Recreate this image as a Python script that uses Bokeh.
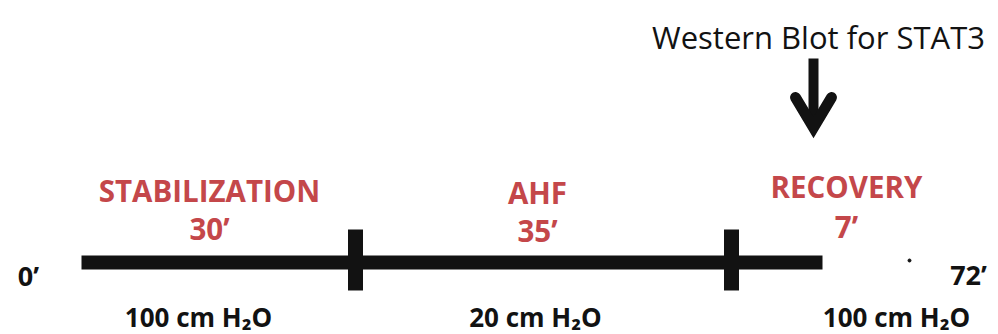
from bokeh.plotting import figure
from bokeh.models import Range1d, ColumnDataSource
from bokeh.core.properties import value
from bokeh.embed import file_html
from bokeh.resources import INLINE

# ---- data ----
phase_names = ["STABILIZATION", "AHF", "RECOVERY"]
phase_minutes = ["30\u2019", "35\u2019", "7\u2019"]
phase_pressures = ["100 cm H\u2082O", "20 cm H\u2082O", "100 cm H\u2082O"]
time_marks = ["0\u2019", "72\u2019"]
annotation = "Western Blot for STAT3"

# ---- schematic layout (diagram not drawn to scale; page-pixel units) ----
bar_x = [81, 822]
divider_x = [355, 731]
phase_label_x = [209, 537, 846]
phase_name_base = [190, 192, 186]
phase_min_base = [228, 230, 226]
pressure_x = [198, 535, 896]
pressure_base = [316, 316, 316]
mark_x = [28, 968]
mark_base = [275, 274]
arrow_x = 813

RED = "#c4474a"
INK = "#121212"
FONT = value("Open Sans")

p = figure(width=998, height=334, output_backend="svg", toolbar_location=None,
           x_range=Range1d(0, 998), y_range=Range1d(334, 0), min_border=0)
p.axis.visible = False
p.grid.visible = False
p.outline_line_color = None
p.background_fill_color = "white"
p.border_fill_color = "white"

# main timeline bar
p.quad(left=[bar_x[0]], right=[bar_x[1]], top=[255], bottom=[269],
       fill_color=INK, line_color=None)
# phase dividers
p.quad(left=[x - 7.5 for x in divider_x], right=[x + 7.5 for x in divider_x],
       top=[229] * 2, bottom=[290] * 2, fill_color=INK, line_color=None)
# small speck seen in the original
p.scatter(x=[909], y=[260], size=3, color=INK)

# arrow
p.quad(left=[arrow_x - 5], right=[arrow_x + 5], top=[58], bottom=[124],
       fill_color=INK, line_color=None)
p.line(x=[arrow_x - 18, arrow_x, arrow_x + 18], y=[97, 127, 97],
       line_width=11, line_color=INK, line_cap="round", line_join="miter")

# texts
p.text(x=[818], y=[36], text=[annotation], text_font=FONT, text_font_size="31px",
       text_align="center", text_baseline="alphabetic", text_color=INK)

src = ColumnDataSource(dict(x=phase_label_x, yn=phase_name_base, ym=phase_min_base,
                            name=phase_names, mins=phase_minutes))
p.text(x="x", y="yn", text="name", source=src, text_font=FONT, text_font_size="29.5px",
       text_font_style="bold", text_align="center", text_baseline="alphabetic",
       text_color=RED)
p.text(x="x", y="ym", text="mins", source=src, text_font=FONT, text_font_size="29.5px",
       text_font_style="bold", text_align="center", text_baseline="alphabetic",
       text_color=RED)

p.text(x=pressure_x, y=pressure_base, text=phase_pressures, text_font=FONT,
       text_font_size="26px", text_font_style="bold", text_align="center",
       text_baseline="alphabetic", text_color=INK)

p.text(x=mark_x, y=mark_base, text=time_marks, text_font=FONT,
       text_font_size="27px", text_font_style="bold", text_align="center",
       text_baseline="alphabetic", text_color=INK)

open("out.html", "w").write(file_html(p, INLINE))
